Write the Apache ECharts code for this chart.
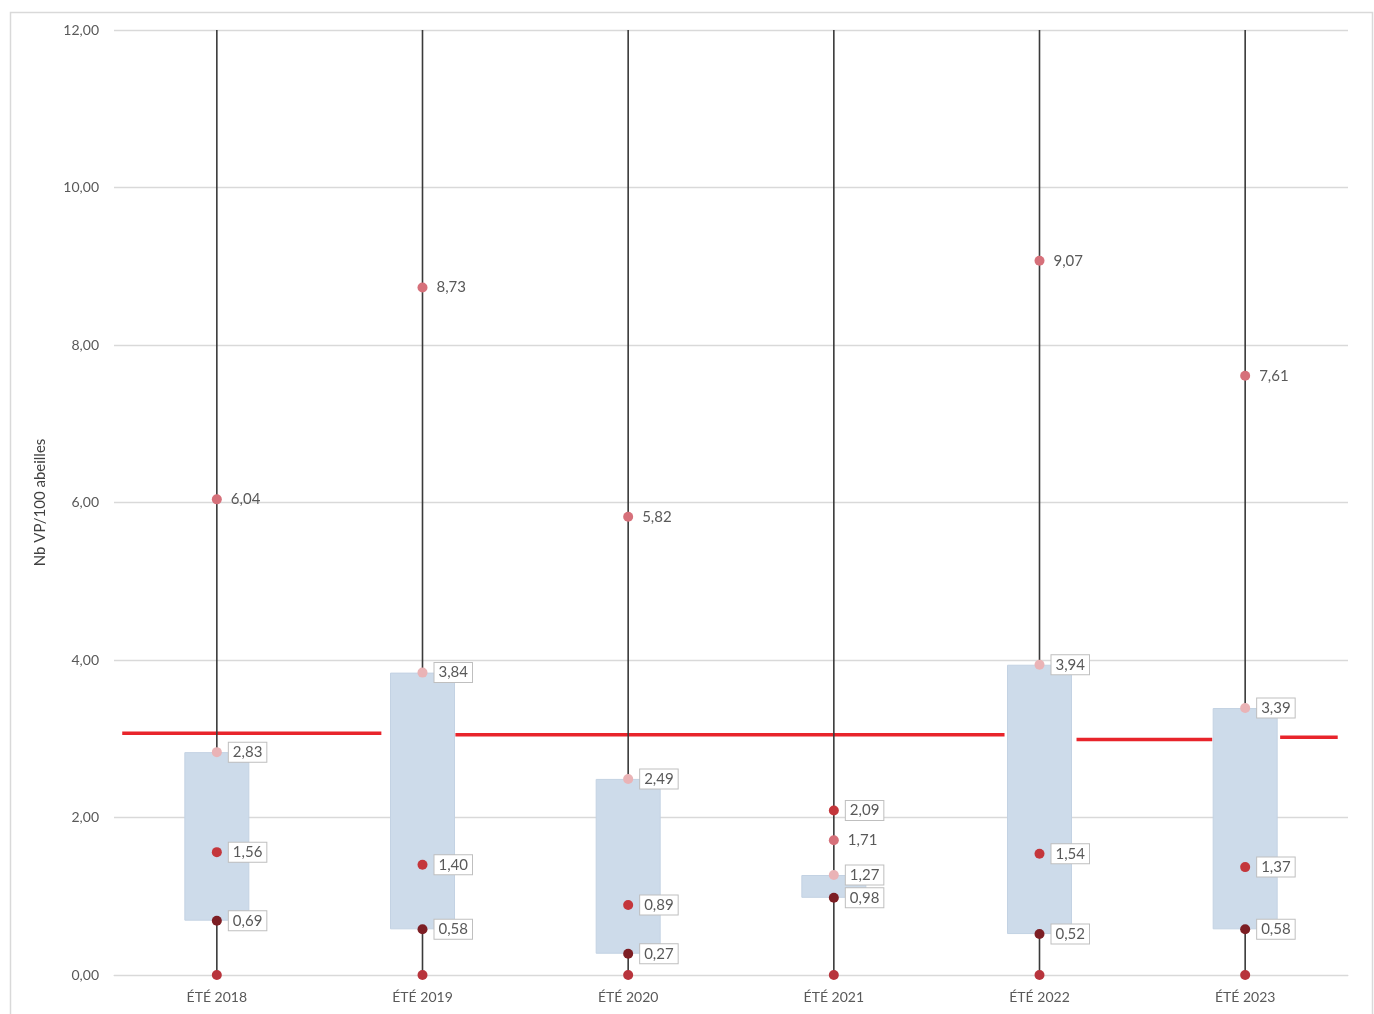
<!DOCTYPE html>
<html>
<head>
<meta charset="utf-8">
<script src="https://cdn.jsdelivr.net/npm/echarts@6/dist/echarts.min.js"></script>
<style>
html,body{margin:0;padding:0;background:#fff;}
#chart{width:1374px;height:1014px;}
</style>
</head>
<body>
<div id="chart"></div>
<script>
// ---- data ----
const categories = ['ÉTÉ 2018', 'ÉTÉ 2019', 'ÉTÉ 2020', 'ÉTÉ 2021', 'ÉTÉ 2022', 'ÉTÉ 2023'];
const minimum   = [0, 0, 0, 0, 0, 0];
const maximum   = [12, 12, 12, 12, 12, 12];   // whiskers run past the axis top
const q1        = [0.69, 0.58, 0.27, 0.98, 0.52, 0.58];
const median    = [1.56, 1.40, 0.89, 2.09, 1.54, 1.37];
const q3        = [2.83, 3.84, 2.49, 1.27, 3.94, 3.39];
const upper     = [6.04, 8.73, 5.82, 1.71, 9.07, 7.61];
// red reference line: [position along categories (0..6), value]
const seuil = [[0.04, 3.07], [1.30, 3.07], '-', [1.66, 3.05], [4.33, 3.05], '-', [4.68, 2.99], [5.34, 2.99], '-', [5.67, 3.02], [5.95, 3.02]];
const yTicks = { min: 0, max: 12, interval: 2 };

const FONT = 'Lato, "Open Sans", sans-serif';
const fmt = v => Number(v).toFixed(2).replace('.', ',');

const boxedLabel = {
  show: true, position: 'right', distance: 7,
  formatter: p => fmt(p.value),
  color: '#595959', fontSize: 15, fontFamily: FONT,
  backgroundColor: '#fff', borderColor: '#bfbfbf', borderWidth: 1,
  padding: [3, 4, 1, 4]
};
const plainLabel = {
  show: true, position: 'right', distance: 9,
  formatter: p => fmt(p.value),
  color: '#595959', fontSize: 15, fontFamily: FONT
};

function dots(name, data, color, label, z) {
  return {
    name, type: 'line', data, z,
    lineStyle: { opacity: 0 }, symbol: 'circle', symbolSize: 10,
    itemStyle: { color }, label, silent: true, animation: false
  };
}

const chart = echarts.init(document.getElementById('chart'), null, { renderer: 'canvas' });
chart.setOption({
  animation: false,
  backgroundColor: '#fff',
  graphic: [{
    type: 'rect', left: 8, top: 10, z: 0,
    shape: { width: 1362, height: 1010 },
    style: { fill: 'none', stroke: '#d9d9d9', lineWidth: 1.5 }
  }],
  grid: { left: 114, right: 26, top: 30, bottom: 39 },
  xAxis: [{
    type: 'category', data: categories, boundaryGap: true,
    axisLine: { show: true, lineStyle: { color: '#d9d9d9' } },
    axisTick: { show: false },
    axisLabel: { color: '#595959', fontSize: 14, fontFamily: FONT, margin: 15 }
  }, {
    type: 'value', min: 0, max: 6, show: false
  }],
  yAxis: {
    type: 'value', min: yTicks.min, max: yTicks.max, interval: yTicks.interval,
    name: 'Nb VP/100 abeilles', nameLocation: 'middle', nameGap: 66, nameRotate: 90,
    nameTextStyle: { color: '#404040', fontSize: 15, fontFamily: FONT },
    axisLine: { show: false }, axisTick: { show: false },
    axisLabel: { color: '#595959', fontSize: 14, fontFamily: FONT, margin: 15, formatter: v => fmt(v) },
    splitLine: { lineStyle: { color: '#d9d9d9', width: 1.3 } }
  },
  series: [
    {
      name: 'seuil', type: 'line', xAxisIndex: 1, data: seuil, z: 1,
      symbol: 'none', lineStyle: { color: '#e8242b', width: 3.5 }, silent: true
    },
    {
      name: 'moustaches', type: 'custom', z: 2, silent: true, clip: true,
      data: categories.map((c, i) => [i, minimum[i], maximum[i]]),
      renderItem: (params, api) => {
        const a = api.coord([api.value(0), api.value(1)]);
        const b = api.coord([api.value(0), api.value(2)]);
        return {
          type: 'line',
          shape: { x1: a[0], y1: a[1], x2: b[0], y2: b[1] },
          style: { stroke: '#3a3a3a', lineWidth: 1.6 }
        };
      }
    },
    {
      name: 'base', type: 'bar', stack: 'box', data: q1, barWidth: 65, z: 3,
      itemStyle: { color: 'transparent' }, silent: true
    },
    {
      name: 'boite', type: 'bar', stack: 'box', z: 3, barWidth: 65,
      data: q3.map((v, i) => +(v - q1[i]).toFixed(2)),
      itemStyle: { color: '#cddbea', borderColor: '#c3d2e3', borderWidth: 1 }, silent: true
    },
    dots('min', minimum, '#b8343c', { show: false }, 5),
    dots('Q1', q1, '#7d1e24', boxedLabel, 5),
    dots('médiane', median, '#c4363b', boxedLabel, 5),
    dots('Q3', q3, '#eab3b6', boxedLabel, 5),
    dots('haut', upper, '#d6707a', plainLabel, 5)
  ]
});
</script>
</body>
</html>
